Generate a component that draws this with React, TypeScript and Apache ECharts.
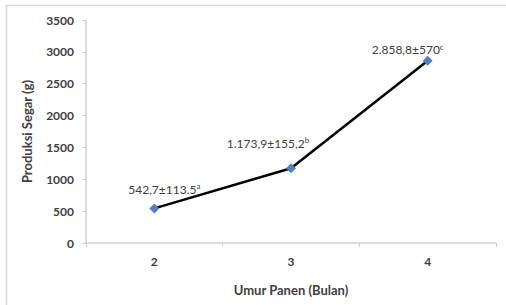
import React, { useEffect, useRef } from "react";
import * as echarts from "echarts";

const categories = ["2", "3", "4"];
const values = [542.7, 1173.9, 2858.8];
const labelMain = ["542,7±113.5", "1.173,9±155,2", "2.858,8±570"];
const labelSup = ["a", "b", "c"];
const yTicks = { min: 0, max: 3500, interval: 500 };

const labelOffsets: [number, number][] = [
  [10, -2],
  [-23, -8],
  [-20, 6],
];

export default function App() {
  const ref = useRef<HTMLDivElement>(null);
  useEffect(() => {
    if (!ref.current) return;
    const chart = echarts.init(ref.current, null, { renderer: "svg" });
    const font = "Lato, 'Open Sans', sans-serif";
    chart.setOption({
      animation: false,
      backgroundColor: "#ffffff",
      textStyle: { fontFamily: font },
      graphic: [
        {
          type: "rect",
          shape: { x: 6.5, y: 5.5, width: 520, height: 330 },
          style: { fill: "none", stroke: "#d9d9d9", lineWidth: 1.5 },
          silent: true,
        },
      ],
      grid: { left: 86, right: 10, top: 20, bottom: 62 },
      xAxis: {
        type: "category",
        data: categories,
        boundaryGap: true,
        name: "Umur Panen (Bulan)",
        nameLocation: "middle",
        nameGap: 40,
        nameTextStyle: { fontFamily: font, fontSize: 13, fontWeight: "bold", color: "#404040" },
        axisLine: { lineStyle: { color: "#d0d0d0", width: 1.5 } },
        axisTick: { show: true, length: 4, inside: false, lineStyle: { color: "#d0d0d0" } },
        axisLabel: { fontFamily: font, fontSize: 12, fontWeight: "bold", color: "#404040", margin: 12 },
        splitLine: { show: false },
      },
      yAxis: {
        type: "value",
        min: yTicks.min,
        max: yTicks.max,
        interval: yTicks.interval,
        name: "Produksi Segar (g)",
        nameLocation: "middle",
        nameGap: 53,
        nameRotate: 90,
        nameTextStyle: { fontFamily: font, fontSize: 13, fontWeight: "bold", color: "#404040" },
        axisLine: { show: true, lineStyle: { color: "#d0d0d0", width: 1.5 } },
        axisTick: { show: true, length: 4, inside: false, lineStyle: { color: "#d0d0d0" } },
        axisLabel: {
          fontFamily: font,
          fontSize: 12,
          fontWeight: "bold",
          color: "#404040",
          margin: 12,
          formatter: (v: number) => String(v),
        },
        splitLine: { show: false },
      },
      series: [
        {
          type: "line",
          data: values.map((v, i) => ({
            value: v,
            label: {
              show: true,
              position: "top",
              offset: labelOffsets[i],
              formatter: `{m|${labelMain[i]}}{s|${labelSup[i]}}`,
            },
          })),
          symbol: "diamond",
          symbolSize: 10,
          itemStyle: { color: "#4f81bd" },
          lineStyle: { color: "#000000", width: 2.5 },
          label: {
            show: true,
            color: "#404040",
            rich: {
              m: { fontFamily: font, fontSize: 12, color: "#404040" },
              s: { fontFamily: font, fontSize: 8, color: "#404040", verticalAlign: "top", padding: [0, 0, 6, 0] },
            },
          },
        },
      ],
    });
    return () => chart.dispose();
  }, []);
  return (
    <div
      ref={ref}
      style={{ position: "absolute", left: 0, top: 0, width: 506, height: 305 }}
    />
  );
}
